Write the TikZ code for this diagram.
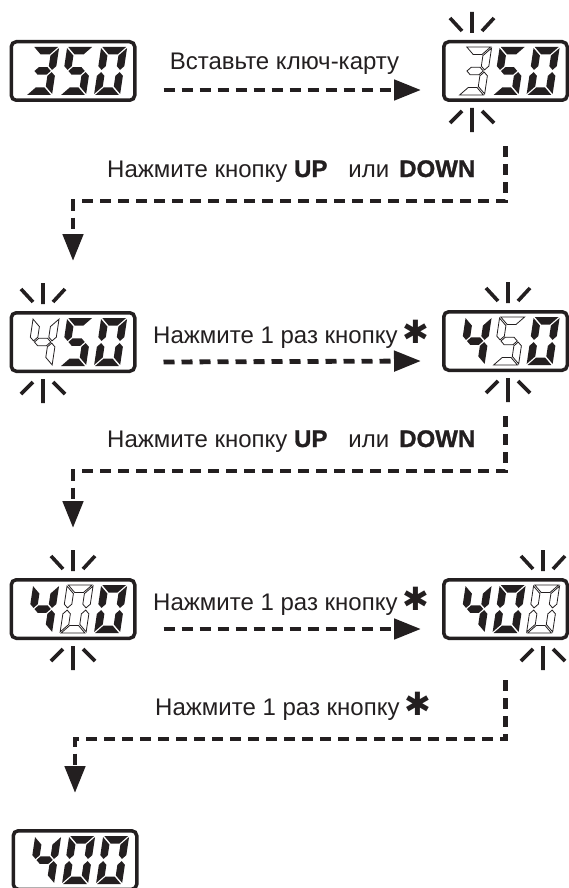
\documentclass[tikz,border=0pt]{standalone}
\usepackage{fontspec}
\setmainfont{Liberation Sans}
\newfontfamily\symfont{DejaVu Sans}
\newfontfamily\heavyfont[FakeBold=1.2]{Liberation Sans Bold}
\usetikzlibrary{arrows.meta}
\definecolor{ink}{RGB}{35,31,32}

% seven-segment geometry (upright frame, v upward)
\def\dW{26}\def\dH{48}\def\dt{7.5}\def\dd{1.1}
\pgfmathsetmacro\dm{\dH/2}
\pgfmathsetmacro\dht{\dt/2}

\newcommand\lcdsega[1]{\path[#1] (\dd,\dH) -- ({\dW-\dd},\dH) -- ({\dW-\dt-\dd},{\dH-\dt}) -- ({\dt+\dd},{\dH-\dt}) -- cycle;}
\newcommand\lcdsegd[1]{\path[#1] (\dd,0) -- ({\dW-\dd},0) -- ({\dW-\dt-\dd},\dt) -- ({\dt+\dd},\dt) -- cycle;}
\newcommand\lcdsegg[1]{\path[#1] ({\dht+\dd},\dm) -- ({\dt+\dd},{\dm+\dht}) -- ({\dW-\dt-\dd},{\dm+\dht}) -- ({\dW-\dht-\dd},\dm) -- ({\dW-\dt-\dd},{\dm-\dht}) -- ({\dt+\dd},{\dm-\dht}) -- cycle;}
\newcommand\lcdsegf[1]{\path[#1] (0,{\dH-\dd}) -- (\dt,{\dH-\dt-\dd}) -- (\dt,{\dm+\dht+\dd}) -- (\dht,{\dm+\dd}) -- (0,{\dm+\dht+\dd}) -- cycle;}
\newcommand\lcdsegb[1]{\path[#1] (\dW,{\dH-\dd}) -- ({\dW-\dt},{\dH-\dt-\dd}) -- ({\dW-\dt},{\dm+\dht+\dd}) -- ({\dW-\dht},{\dm+\dd}) -- (\dW,{\dm+\dht+\dd}) -- cycle;}
\newcommand\lcdsege[1]{\path[#1] (0,\dd) -- (\dt,{\dt+\dd}) -- (\dt,{\dm-\dht-\dd}) -- (\dht,{\dm-\dd}) -- (0,{\dm-\dht-\dd}) -- cycle;}
\newcommand\lcdsegc[1]{\path[#1] (\dW,\dd) -- ({\dW-\dt},{\dt+\dd}) -- ({\dW-\dt},{\dm-\dht-\dd}) -- ({\dW-\dht},{\dm-\dd}) -- (\dW,{\dm-\dht-\dd}) -- cycle;}

% x, y (pixel coords of the upright bottom-left), style, segment list
\newcommand\lcdigit[4]{%
  \begin{scope}[shift={({#1},{-(#2)})},xslant=0.15]
    \foreach \s in {#4}{\csname lcdseg\s\endcsname{#3}}
  \end{scope}}

% name, cx, cy, style1, segs1, style2, segs2, style3, segs3
\newcommand\lcdshow[9]{%
  \node[disp] (#1) at (#2,-#3) {};
  \lcdigit{#2-47}{#3+24}{#4}{#5}
  \lcdigit{#2-13}{#3+24}{#6}{#7}
  \lcdigit{#2+21}{#3+24}{#8}{#9}}

% sparkle: cx, box top, box bottom (pixel coords)
\newcommand\sparkle[3]{%
  \begin{scope}[shift={(#1,-#2)}]
    \draw[spark] (0,7) -- (0,28) (-10,9) -- (-22,22) (10,9) -- (22,22);
  \end{scope}
  \begin{scope}[shift={(#1,-#3)}]
    \draw[spark] (0,-6) -- (0,-30) (-10,-9) -- (-22,-21) (10,-9) -- (22,-21);
  \end{scope}}

\tikzset{
  disp/.style={draw=ink, line width=3.5pt, rounded corners=5pt, minimum width=123.5pt, minimum height=58.5pt, inner sep=0pt},
  on/.style={fill=ink},
  off/.style={draw=ink, line width=0.8pt, fill=white, line join=miter},
  spark/.style={draw=ink, line width=3.6pt},
  flow/.style={draw=ink, line width=4.8pt, dash pattern=on 11pt off 7pt, line join=miter, -{Triangle[length=27pt,width=20pt]}},
  lbl/.style={inner sep=0pt, text=ink, font=\fontsize{24}{28}\selectfont},
}
\newcommand\keystar{\hspace{5pt}{\symfont\fontsize{32}{32}\selectfont ✱}}
\newcommand\keyname[1]{{\heavyfont #1}}

\begin{document}
\begin{tikzpicture}[x=1pt,y=1pt]
\useasboundingbox (0,0) rectangle (569,-888);

% displays
\lcdshow{d1}{73}{71}{on}{a,b,g,c,d}{on}{a,f,g,c,d}{on}{a,b,c,d,e,f}
\lcdshow{d2}{505.5}{71}{off}{a,b,g,c,d}{on}{a,f,g,c,d}{on}{a,b,c,d,e,f}
\lcdshow{d3}{73}{342}{off}{f,g,b,c}{on}{a,f,g,c,d}{on}{a,b,c,d,e,f}
\lcdshow{d4}{505.5}{341}{on}{f,g,b,c}{off}{a,f,g,c,d}{on}{a,b,c,d,e,f}
\lcdshow{d5}{73}{609}{on}{f,g,b,c}{off}{a,b,c,d,e,f}{on}{a,b,c,d,e,f}
\lcdshow{d6}{505.5}{609}{on}{f,g,b,c}{on}{a,b,c,d,e,f}{off}{a,b,c,d,e,f}
\lcdshow{d7}{75}{860}{on}{f,g,b,c}{on}{a,b,c,d,e,f}{on}{a,b,c,d,e,f}

% sparkles
\sparkle{472}{40}{102}
\sparkle{43}{311}{373}
\sparkle{508}{310}{372}
\sparkle{73}{578}{640}
\sparkle{543}{578}{640}

% connectors
\draw[flow] ([xshift=27pt,yshift=-19pt]d1.east) -- ([xshift=-21pt,yshift=-19pt]d2.west);
\draw[flow] ([yshift=-44pt]d2.south) -- ++(0,-55) -| ([yshift=50pt]d3.north);
\draw[flow] ([xshift=27pt,yshift=-20pt]d3.east) -- ([xshift=-21pt,yshift=-20pt]d4.west);
\draw[flow] ([yshift=-44pt]d4.south) -- ++(0,-55) -| ([yshift=50pt]d5.north);
\draw[flow] ([xshift=27pt,yshift=-20pt]d5.east) -- ([xshift=-21pt,yshift=-20pt]d6.west);
\draw[flow] ([yshift=-40pt]d6.south) -- ++(0,-59) -| ([yshift=36pt]d7.north);

% labels
\node[lbl, anchor=base] (t1) at (284.5,-70) {Вставьте ключ-карту};
\node[lbl, anchor=base west] (t2) at (107,-177) {Нажмите кнопку \keyname{UP}\hspace{21pt}или\hspace{10pt}\keyname{DOWN}};
\node[lbl, anchor=base west] (t3) at (153,-343) {Нажмите 1 раз кнопку\keystar};
\node[lbl, anchor=base west] (t4) at (107,-447) {Нажмите кнопку \keyname{UP}\hspace{21pt}или\hspace{10pt}\keyname{DOWN}};
\node[lbl, anchor=base west] (t5) at (153,-610) {Нажмите 1 раз кнопку\keystar};
\node[lbl, anchor=base west] (t6) at (155,-715) {Нажмите 1 раз кнопку\keystar};
\end{tikzpicture}
\end{document}
